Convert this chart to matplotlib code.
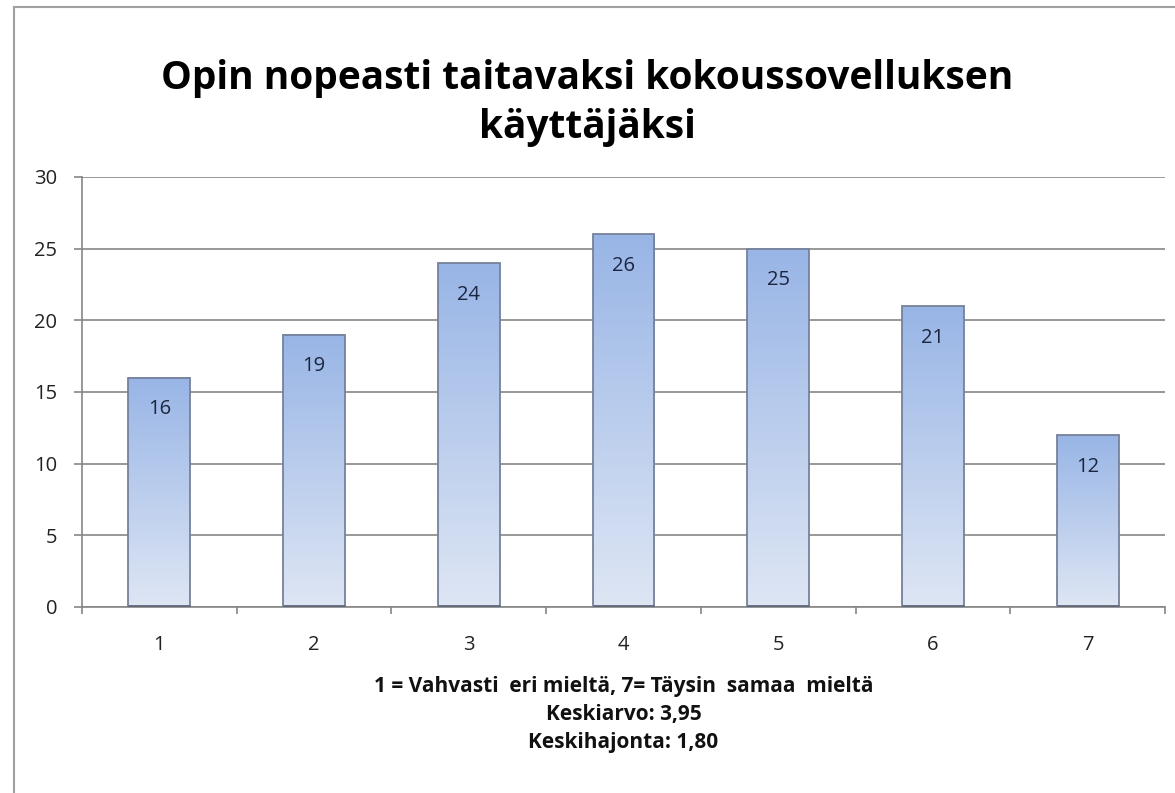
import numpy as np
import matplotlib
matplotlib.use("Agg")
import matplotlib.pyplot as plt
from matplotlib.patches import Rectangle

plt.rcParams['font.family'] = ['Open Sans', 'DejaVu Sans']

# data
categories = [1, 2, 3, 4, 5, 6, 7]
values = [16, 19, 24, 26, 25, 21, 12]
yticks = [0, 5, 10, 15, 20, 25, 30]
title = "Opin nopeasti taitavaksi kokoussovelluksen\nkäyttäjäksi"
xlabel_lines = ["1 = Vahvasti  eri mieltä, 7= Täysin  samaa  mieltä",
                "Keskiarvo: 3,95",
                "Keskihajonta: 1,80"]

fig = plt.figure(figsize=(11.75, 7.93), dpi=100)
ax = fig.add_axes([0.0698, 0.2346, 0.9217, 0.5422])

# frame around chart area (left/top visible)
fig.patches.append(Rectangle((14 / 1175, -0.1), 1.2, 1.1 - 7 / 793,
                             transform=fig.transFigure, fill=False,
                             edgecolor="#a0a0a0", linewidth=1.5, zorder=0))

# gradient fill for bars
top_col = np.array([0x98, 0xB5, 0xE6]) / 255
bot_col = np.array([0xDE, 0xE6, 0xF4]) / 255
grad = np.linspace(0, 1, 256)[:, None]
img = top_col[None, None, :] * (1 - grad[:, :, None]) + bot_col[None, None, :] * grad[:, :, None]

width = 0.4
bars = ax.bar(categories, values, width=width, facecolor="none",
              edgecolor="#76819a", linewidth=1.3, zorder=3)
for b, v in zip(bars, values):
    x0 = b.get_x()
    ax.imshow(img, extent=[x0, x0 + width, 0, v], aspect="auto", zorder=2,
              interpolation="bilinear")
    ax.plot([x0, x0 + width], [0.08, 0.08], color="#5f6778", lw=2, zorder=4,
            solid_capstyle="butt")
    ax.text(b.get_x() + width / 2, v - 2.2, str(v), ha="center", va="center",
            fontsize=14.5, color="#1c2640", zorder=4)

ax.set_xlim(0.5, 7.5)
ax.set_ylim(0, 30)
ax.set_yticks(yticks)
ax.set_xticks(categories)
ax.set_xticks(np.arange(0.5, 8, 1), minor=True)
ax.tick_params(axis="x", which="major", length=0, pad=20, labelsize=14.5,
               colors="#222222")
ax.tick_params(axis="x", which="minor", length=5, direction="out",
               color="#868686", width=1.2)
ax.tick_params(axis="y", length=6, pad=12, labelsize=14.5, colors="#222222",
               color="#868686", width=1.2)
ax.grid(axis="y", color="#868686", linewidth=1.2, zorder=1)
ax.set_axisbelow(True)
for s in ["top", "right"]:
    ax.spines[s].set_visible(False)
for s in ["left", "bottom"]:
    ax.spines[s].set_color("#868686")
    ax.spines[s].set_linewidth(1.2)

ax.set_xlabel("\n".join(xlabel_lines), fontsize=15, fontweight="bold",
              linespacing=1.45, labelpad=15, color="#111111")

fig.text(0.5, 0.870, title, ha="center", va="center", fontsize=28,
         fontweight="bold", linespacing=1.35)

fig.savefig("out.png", dpi=100, facecolor="white")
